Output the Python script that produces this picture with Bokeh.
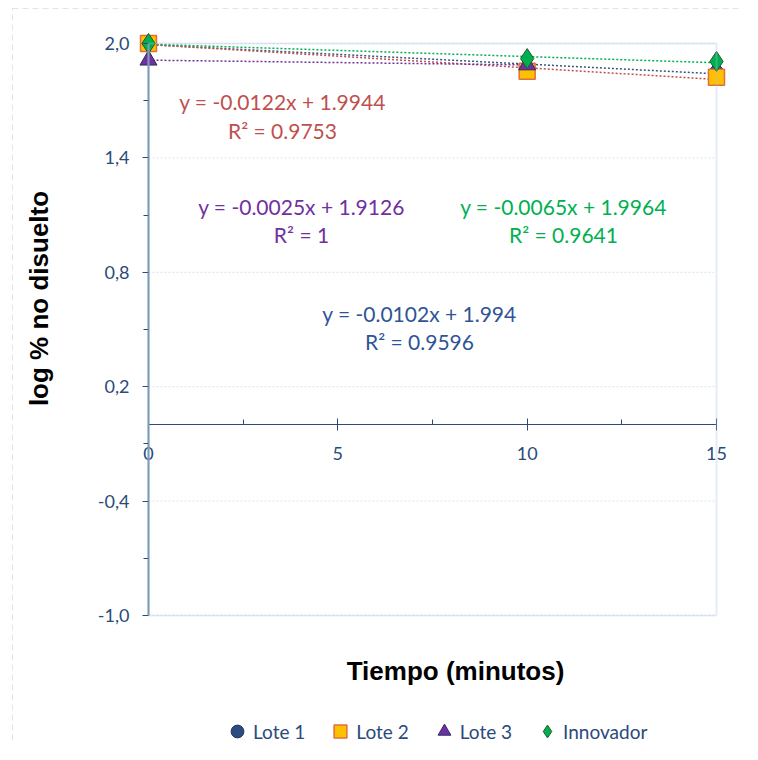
import math
from bokeh.plotting import figure
from bokeh.models import (FixedTicker, CustomJSTickFormatter, Label, Legend, LegendItem,
                          Range1d, ColumnDataSource, BoxAnnotation)
from bokeh.core.properties import value
from bokeh.embed import file_html
from bokeh.resources import INLINE

# ---- data ----
lote1_x = [0, 10, 15]
lote1_y = [2.0, 1.874, 1.853]
lote2_x = [0, 10, 15]
lote2_y = [2.0, 1.855, 1.823]
lote3_x = [0, 10]
lote3_y = [1.9126, 1.8876]
innov_x = [0, 10, 15]
innov_y = [2.0, 1.921, 1.906]

series_names = ["Lote 1", "Lote 2", "Lote 3", "Innovador"]
trend_slopes = [-0.0102, -0.0122, -0.0025, -0.0065]
trend_intercepts = [1.994, 1.9944, 1.9126, 1.9964]
trend_eqs = ["y = -0.0102x + 1.994", "y = -0.0122x + 1.9944",
             "y = -0.0025x + 1.9126", "y = -0.0065x + 1.9964"]
trend_r2 = ["R\u00b2 = 0.9596", "R\u00b2 = 0.9753", "R\u00b2 = 1", "R\u00b2 = 0.9641"]

x_min, x_max = 0, 15
y_min, y_max = -1.0, 2.0
y_ticks = [-1.0, -0.4, 0.2, 0.8, 1.4, 2.0]
y_minor = [-0.7, -0.1, 0.5, 1.1, 1.7]
x_ticks = [0, 5, 10, 15]
x_minor = [2.5, 7.5, 12.5]

# ---- layout (pixels of the plot area inside the figure) ----
W, H = 742, 744
PA_L, PA_R, PA_T, PA_B = 148, 716, 43, 615
sx = (PA_R - PA_L) / (x_max - x_min)
sy = (PA_B - PA_T) / (y_max - y_min)


def px2x(px):
    return x_min + (px - PA_L) / sx


def py2y(py):
    return y_max - (py - PA_T) / sy


FONT = "Lato"
TXT = "#2b4a7a"
label_pos_px = [419, 282, 301, 563]
label_pos_py1 = [313, 101, 206, 206]
label_pos_py2 = [341, 130, 234, 234]
label_colors = ["#2f5496", "#c0504d", "#7030a0", "#00b050"]
trend_colors = ["#3a5680", "#c0504d", "#7030a0", "#00b050"]

p = figure(width=W, height=H, output_backend="svg", toolbar_location=None,
           x_range=Range1d(px2x(0), px2x(W)),
           y_range=Range1d(py2y(H), py2y(0)),
           min_border=0, background_fill_color="white", border_fill_color="white")
p.outline_line_color = None

# outer dashed chart border (top/left visible)
p.add_layout(BoxAnnotation(left=px2x(12), right=px2x(W + 50),
                           top=py2y(8), bottom=py2y(H + 50),
                           fill_alpha=0, line_color="#8eaadb", line_width=1,
                           line_dash="6 4"))

# horizontal gridlines restricted to the plot area
p.xgrid.grid_line_color = None
p.ygrid.grid_line_color = None
p.segment(x0=[x_min] * len(y_ticks), x1=[x_max] * len(y_ticks), y0=y_ticks, y1=y_ticks,
          line_color="#d9e2f3", line_width=1, line_dash="2 2")

# plot-area border
p.add_layout(BoxAnnotation(left=x_min, right=x_max, top=y_max, bottom=y_min,
                           fill_alpha=0, line_color="#a9bfe6", line_width=2))

# axes
xa = p.xaxis[0]
xa.fixed_location = 0
xa.bounds = (x_min, x_max)
xa.ticker = FixedTicker(ticks=x_ticks, minor_ticks=x_minor)
xa.axis_line_color = TXT
xa.major_tick_line_color = TXT
xa.minor_tick_line_color = TXT
xa.major_tick_in = 6
xa.major_tick_out = 6
xa.minor_tick_in = 5
xa.minor_tick_out = 0
xa.major_label_standoff = 16
xa.major_label_text_color = TXT
xa.major_label_text_font = FONT
xa.major_label_text_font_size = "18px"

ya = p.yaxis[0]
ya.fixed_location = 0
ya.bounds = (y_min, y_max)
ya.ticker = FixedTicker(ticks=y_ticks, minor_ticks=y_minor)
ya.formatter = CustomJSTickFormatter(code="return tick.toFixed(1).replace('.', ',');")
ya.axis_line_color = "#6a8da3"
ya.axis_line_width = 2
ya.major_tick_line_color = TXT
ya.minor_tick_line_color = TXT
ya.major_tick_in = 0
ya.major_tick_out = 6
ya.minor_tick_in = 0
ya.minor_tick_out = 5
ya.major_label_standoff = 13
ya.major_label_text_color = TXT
ya.major_label_text_font = FONT
ya.major_label_text_font_size = "18px"

# trend lines
all_x = [lote1_x, lote2_x, lote3_x, innov_x]
for xs, m, b, c in zip(all_x, trend_slopes, trend_intercepts, trend_colors):
    tx = [min(xs), max(xs)]
    ty = [m * v + b for v in tx]
    p.line(tx, ty, line_color=c, line_width=1.5, line_dash="2 2")

# markers
r1 = p.scatter(lote1_x, lote1_y, marker="circle", size=13, fill_color="#2b4c7e",
               line_color="#1f3864")
r2 = p.scatter(lote2_x, lote2_y, marker="square", size=16, fill_color="#ffc000",
               line_color="#e0703a", line_width=1.5)
r3 = p.scatter(lote3_x, lote3_y, marker="triangle", size=17, fill_color="#7030a0",
               line_color="#2e2a6b", line_width=1)
r4 = p.scatter(innov_x, innov_y, marker="diamond", size=20, fill_color="#00b050",
               line_color="#2a5a2a", line_width=1)

# equation labels
src = ColumnDataSource(dict(x=[px2x(v) for v in label_pos_px],
                            y1=[py2y(v) for v in label_pos_py1],
                            y2=[py2y(v) for v in label_pos_py2],
                            eq=trend_eqs, r2=trend_r2, c=label_colors))
p.text(x="x", y="y1", text="eq", source=src, text_color="c", text_font=value(FONT),
       text_font_size="21px", text_align="center", text_baseline="middle")
p.text(x="x", y="y2", text="r2", source=src, text_color="c", text_font=value(FONT),
       text_font_size="21px", text_align="center", text_baseline="middle")

# axis titles
p.add_layout(Label(x=px2x(455), y=py2y(670), text="Tiempo (minutos)",
                   text_font="Liberation Sans", text_font_style="bold",
                   text_font_size="26px", text_color="black",
                   text_align="center", text_baseline="middle"))
p.add_layout(Label(x=px2x(38), y=py2y(298), text="log % no disuelto",
                   text_font="Liberation Sans", text_font_style="bold",
                   text_font_size="26px", text_color="black",
                   text_align="center", text_baseline="middle", angle=math.pi / 2))

legend = Legend(items=[LegendItem(label=n, renderers=[r]) for n, r in
                       zip(series_names, [r1, r2, r3, r4])],
                orientation="horizontal",
                location=(221, -3),
                label_text_font=FONT, label_text_font_size="19px",
                label_text_color=TXT, border_line_color=None,
                background_fill_alpha=0, spacing=19, glyph_width=32,
                glyph_height=32, label_standoff=0, padding=0, margin=0)
p.add_layout(legend, "center")

open("out.html", "w").write(file_html(p, INLINE))
